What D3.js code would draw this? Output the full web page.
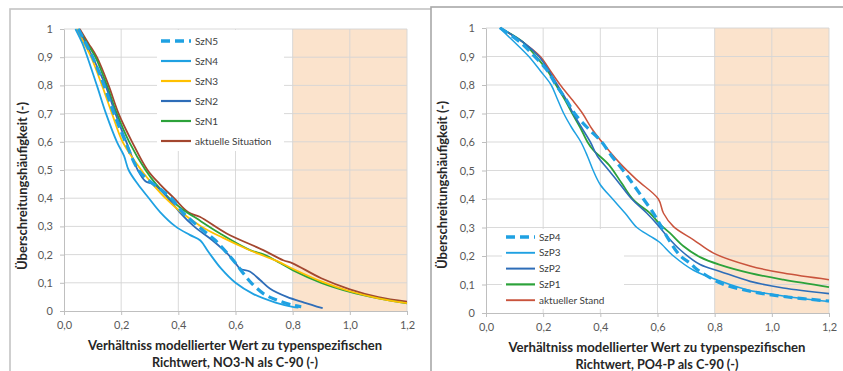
<!DOCTYPE html>
<html>
<head>
<meta charset="utf-8">
<script src="https://cdn.jsdelivr.net/npm/d3@7"></script>
<style>
  body { margin: 0; background: #fff; }
  svg { display: block; font-family: Lato, "Open Sans", sans-serif; }
</style>
</head>
<body>
<svg id="chart" width="843" height="371"></svg>
<script>
// ---- data ----
const xTicks = [0, 0.2, 0.4, 0.6, 0.8, 1.0, 1.2];
const yTicks = [0, 0.1, 0.2, 0.3, 0.4, 0.5, 0.6, 0.7, 0.8, 0.9, 1];
const shadeRange = [0.8, 1.2];

// left chart: NO3-N
const leftNames = ['SzN5', 'SzN4', 'SzN3', 'SzN2', 'SzN1', 'aktuelle Situation'];
const szN5X = [0.05, 0.1, 0.14, 0.175, 0.215, 0.26, 0.3, 0.34, 0.375, 0.415, 0.47, 0.53, 0.575, 0.6, 0.63, 0.655, 0.7, 0.745, 0.8, 0.83];
const szN5Y = [1, 0.9, 0.8, 0.7, 0.6, 0.5, 0.46, 0.43, 0.4, 0.35, 0.3, 0.25, 0.2, 0.17, 0.13, 0.1, 0.06, 0.039, 0.021, 0.015];
const szN4X = [0.04, 0.064, 0.082, 0.115, 0.147, 0.185, 0.21, 0.226, 0.258, 0.297, 0.337, 0.39, 0.44, 0.477, 0.505, 0.55, 0.6, 0.663, 0.74, 0.8, 0.82];
const szN4Y = [1, 0.95, 0.9, 0.8, 0.7, 0.6, 0.55, 0.5, 0.45, 0.4, 0.35, 0.3, 0.27, 0.25, 0.21, 0.15, 0.1, 0.06, 0.03, 0.015, 0.012];
const szN3X = [0.045, 0.07, 0.095, 0.133, 0.168, 0.205, 0.27, 0.31, 0.355, 0.41, 0.48, 0.555, 0.64, 0.7, 0.75, 0.8, 0.9, 1.0, 1.1, 1.2];
const szN3Y = [1, 0.95, 0.9, 0.8, 0.7, 0.6, 0.5, 0.45, 0.4, 0.35, 0.3, 0.26, 0.22, 0.195, 0.175, 0.15, 0.105, 0.07, 0.045, 0.028];
const szN2X = [0.05, 0.1, 0.145, 0.18, 0.218, 0.258, 0.285, 0.312, 0.36, 0.405, 0.455, 0.52, 0.575, 0.6, 0.616, 0.65, 0.686, 0.72, 0.78, 0.84, 0.905];
const szN2Y = [1, 0.9, 0.8, 0.7, 0.6, 0.5, 0.46, 0.45, 0.405, 0.35, 0.3, 0.25, 0.2, 0.17, 0.15, 0.14, 0.11, 0.08, 0.05, 0.03, 0.01];
const szN1X = [0.05, 0.08, 0.11, 0.15, 0.185, 0.228, 0.285, 0.322, 0.368, 0.415, 0.455, 0.546, 0.651, 0.7, 0.756, 0.8, 0.9, 1.0, 1.1, 1.2];
const szN1Y = [1, 0.95, 0.9, 0.8, 0.7, 0.6, 0.5, 0.45, 0.4, 0.36, 0.334, 0.275, 0.216, 0.2, 0.17, 0.145, 0.1, 0.068, 0.045, 0.027];
const aktSitX = [0.055, 0.085, 0.115, 0.156, 0.191, 0.238, 0.292, 0.335, 0.385, 0.435, 0.475, 0.569, 0.697, 0.767, 0.8, 0.9, 1.0, 1.1, 1.2];
const aktSitY = [1, 0.95, 0.9, 0.8, 0.7, 0.6, 0.5, 0.45, 0.4, 0.35, 0.334, 0.275, 0.216, 0.18, 0.169, 0.116, 0.077, 0.049, 0.033];

// right chart: PO4-P
const rightNames = ['SzP4', 'SzP3', 'SzP2', 'SzP1', 'aktueller Stand'];
const szP4X = [0.05, 0.12, 0.17, 0.215, 0.245, 0.28, 0.31, 0.355, 0.405, 0.44, 0.48, 0.516, 0.551, 0.586, 0.615, 0.644, 0.68, 0.714, 0.73, 0.75, 0.82, 0.92, 1.04, 1.2];
const szP4Y = [1, 0.95, 0.9, 0.85, 0.8, 0.75, 0.7, 0.65, 0.6, 0.55, 0.5, 0.45, 0.4, 0.35, 0.3, 0.25, 0.2, 0.175, 0.16, 0.145, 0.105, 0.077, 0.058, 0.042];
const szP3X = [0.047, 0.1, 0.15, 0.19, 0.228, 0.25, 0.272, 0.3, 0.332, 0.355, 0.375, 0.4, 0.443, 0.487, 0.528, 0.574, 0.605, 0.656, 0.726, 0.82, 0.92, 1.04, 1.2];
const szP3Y = [1, 0.95, 0.9, 0.85, 0.8, 0.75, 0.7, 0.65, 0.6, 0.55, 0.5, 0.45, 0.4, 0.35, 0.3, 0.27, 0.25, 0.2, 0.15, 0.112, 0.08, 0.06, 0.04];
const szP2X = [0.05, 0.13, 0.185, 0.22, 0.25, 0.28, 0.305, 0.335, 0.365, 0.39, 0.43, 0.47, 0.51, 0.563, 0.6, 0.633, 0.679, 0.749, 0.819, 0.924, 1.04, 1.2];
const szP2Y = [1, 0.95, 0.9, 0.85, 0.8, 0.75, 0.7, 0.65, 0.6, 0.55, 0.5, 0.45, 0.4, 0.35, 0.31, 0.27, 0.222, 0.17, 0.146, 0.111, 0.088, 0.068];
const szP1X = [0.05, 0.13, 0.175, 0.215, 0.245, 0.275, 0.302, 0.33, 0.355, 0.375, 0.43, 0.475, 0.516, 0.574, 0.61, 0.644, 0.69, 0.749, 0.819, 0.924, 1.04, 1.2];
const szP1Y = [1, 0.95, 0.9, 0.85, 0.8, 0.75, 0.7, 0.65, 0.6, 0.572, 0.52, 0.455, 0.397, 0.35, 0.31, 0.28, 0.235, 0.196, 0.169, 0.14, 0.117, 0.091];
const aktStandX = [0.05, 0.13, 0.19, 0.225, 0.26, 0.3, 0.338, 0.368, 0.4, 0.469, 0.528, 0.603, 0.621, 0.656, 0.726, 0.796, 0.924, 1.04, 1.2];
const aktStandY = [1, 0.95, 0.9, 0.85, 0.8, 0.75, 0.7, 0.65, 0.607, 0.525, 0.467, 0.4, 0.35, 0.303, 0.257, 0.21, 0.165, 0.14, 0.117];

const leftTitle = ['Verhältniss modellierter Wert zu typenspezifischen', 'Richtwert, NO3-N als C-90 (-)'];
const rightTitle = ['Verhältniss modellierter Wert zu typenspezifischen', 'Richtwert, PO4-P als C-90 (-)'];
const yTitle = 'Überschreitungshäufigkeit (-)';

// ---- drawing ----
const svg = d3.select('#chart');
const de = d3.formatLocale({ decimal: ',', thousands: '.', grouping: [3], currency: ['', '€'] });
const fmtX = de.format('.1f');
const fmtY = d => (d === 0 || d === 1) ? String(d) : de.format('.1f')(d);

const zip = (xs, ys) => xs.map((x, i) => ({ x: x, y: ys[i] }));

const lightBlue = '#1fa1e2';

function drawChart(c) {
  const g = svg.append('g');

  // panel frame
  g.append('rect')
    .attr('x', c.frame[0]).attr('y', c.frame[1])
    .attr('width', c.frame[2]).attr('height', c.frame[3])
    .attr('fill', '#fff').attr('stroke', c.frameColor).attr('stroke-width', 1.6);

  const x = d3.scaleLinear().domain([0, 1.2]).range(c.xRange);
  const y = d3.scaleLinear().domain([0, 1]).range(c.yRange);

  // shaded region
  g.append('rect')
    .attr('x', x(shadeRange[0])).attr('y', y(1))
    .attr('width', x(shadeRange[1]) - x(shadeRange[0]))
    .attr('height', y(0) - y(1))
    .attr('fill', '#fbe3cc');

  // gridlines
  g.append('g').selectAll('line').data(yTicks.slice(1)).enter().append('line')
    .attr('x1', c.xRange[0]).attr('x2', c.xRange[1])
    .attr('y1', d => y(d)).attr('y2', d => y(d))
    .attr('stroke', '#d6d6d6').attr('stroke-width', 1).attr('opacity', 0.9);
  g.append('g').selectAll('line').data(xTicks.slice(1)).enter().append('line')
    .attr('y1', c.yRange[0]).attr('y2', c.yRange[1])
    .attr('x1', d => x(d)).attr('x2', d => x(d))
    .attr('stroke', '#d6d6d6').attr('stroke-width', 1).attr('opacity', 0.9);

  // axes
  const xAxis = g.append('g')
    .attr('transform', 'translate(0,' + y(0) + ')')
    .call(d3.axisBottom(x).tickValues(xTicks).tickFormat(fmtX).tickSize(4).tickSizeOuter(0).tickPadding(6));
  const yAxis = g.append('g')
    .attr('transform', 'translate(' + x(0) + ',0)')
    .call(d3.axisLeft(y).tickValues(yTicks).tickFormat(fmtY).tickSize(4).tickSizeOuter(0).tickPadding(7));
  [xAxis, yAxis].forEach(a => {
    a.select('.domain').attr('stroke', '#bfbfbf');
    a.selectAll('.tick line').attr('stroke', '#bfbfbf');
    a.selectAll('.tick text').attr('fill', '#595959').style('font-size', '11px').style('font-family', 'Lato, sans-serif');
  });

  // legend background (covers grid)
  g.append('rect')
    .attr('x', c.legendBox[0]).attr('y', c.legendBox[1])
    .attr('width', c.legendBox[2]).attr('height', c.legendBox[3])
    .attr('fill', '#fff');

  // series
  const line = d3.line().x(d => x(d.x)).y(d => y(d.y)).curve(d3.curveCatmullRom.alpha(0.5));
  c.series.slice().reverse().forEach(s => {
    g.append('path')
      .datum(zip(s.xs, s.ys))
      .attr('d', line)
      .attr('fill', 'none')
      .attr('stroke', s.color)
      .attr('stroke-width', s.width)
      .attr('stroke-dasharray', s.dash || null)
      .attr('stroke-linejoin', 'round');
  });

  // legend entries
  c.series.forEach((s, i) => {
    const ly = c.legend.y + i * c.legend.step;
    g.append('line')
      .attr('x1', c.legend.x).attr('x2', c.legend.x + c.legend.len)
      .attr('y1', ly).attr('y2', ly)
      .attr('stroke', s.color).attr('stroke-width', s.width + 0.4)
      .attr('stroke-dasharray', s.dash || null);
    g.append('text')
      .attr('x', c.legend.x + c.legend.len + 4).attr('y', ly)
      .attr('dy', '0.35em')
      .attr('fill', '#404040').style('font-size', c.legend.font)
      .text(s.name);
  });

  // axis titles
  c.title.forEach((t, i) => {
    g.append('text')
      .attr('x', c.titlePos[0]).attr('y', c.titlePos[1] + i * 16.5)
      .attr('text-anchor', 'middle')
      .attr('textLength', c.titleLen[i]).attr('lengthAdjust', 'spacingAndGlyphs')
      .attr('fill', '#262626').style('font-size', '12.5px').style('font-weight', 'bold')
      .text(t);
  });
  g.append('text')
    .attr('transform', 'translate(' + c.yTitlePos[0] + ',' + c.yTitlePos[1] + ') rotate(-90)')
    .attr('text-anchor', 'middle')
    .attr('textLength', 168).attr('lengthAdjust', 'spacingAndGlyphs')
    .attr('fill', '#262626').style('font-size', '12.5px').style('font-weight', 'bold')
    .text(yTitle);
}

drawChart({
  frame: [10, 9, 425, 380],
  frameColor: '#c4c4c4',
  xRange: [64, 407],
  yRange: [311, 29],
  legendBox: [157, 30, 127, 121],
  legend: { x: 161, y: 41, step: 20, len: 30, font: '10px' },
  titlePos: [235, 350],
  titleLen: [294, 166],
  yTitlePos: [27, 186],
  title: leftTitle,
  series: [
    { name: leftNames[0], xs: szN5X, ys: szN5Y, color: lightBlue, width: 3.2, dash: '9,5' },
    { name: leftNames[1], xs: szN4X, ys: szN4Y, color: lightBlue, width: 1.8 },
    { name: leftNames[2], xs: szN3X, ys: szN3Y, color: '#ffc000', width: 1.8 },
    { name: leftNames[3], xs: szN2X, ys: szN2Y, color: '#2e6db8', width: 1.8 },
    { name: leftNames[4], xs: szN1X, ys: szN1Y, color: '#2ca23a', width: 1.8 },
    { name: leftNames[5], xs: aktSitX, ys: aktSitY, color: '#a3472f', width: 1.8 }
  ]
});

drawChart({
  frame: [431, 7, 420, 380],
  frameColor: '#a8a8a8',
  xRange: [486, 829],
  yRange: [313, 28],
  legendBox: [502, 229, 122, 80],
  legend: { x: 506, y: 237, step: 15.8, len: 29, font: '10px' },
  titlePos: [657, 352],
  titleLen: [297, 163],
  yTitlePos: [447, 185],
  title: rightTitle,
  series: [
    { name: rightNames[0], xs: szP4X, ys: szP4Y, color: lightBlue, width: 3.2, dash: '9,5' },
    { name: rightNames[1], xs: szP3X, ys: szP3Y, color: lightBlue, width: 1.5 },
    { name: rightNames[2], xs: szP2X, ys: szP2Y, color: '#2e6db8', width: 1.6 },
    { name: rightNames[3], xs: szP1X, ys: szP1Y, color: '#2ca23a', width: 1.8 },
    { name: rightNames[4], xs: aktStandX, ys: aktStandY, color: '#c9533c', width: 1.5 }
  ]
});
</script>
</body>
</html>
